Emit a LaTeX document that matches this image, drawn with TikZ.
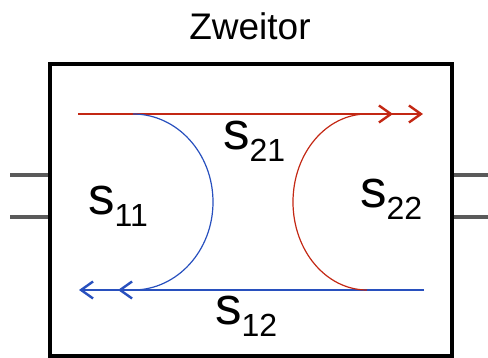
\documentclass[tikz,border=0pt]{standalone}
\usepackage{fontspec}
\setmainfont{Liberation Sans}
\usetikzlibrary{positioning,arrows.meta,calc}
\definecolor{wavered}{RGB}{195,40,20}
\definecolor{waveblue}{RGB}{40,80,190}
\definecolor{portgray}{RGB}{90,90,90}
\tikzset{
  twoport/.style={draw=black, line width=4pt, minimum width=402pt, minimum height=292pt,
                  inner sep=0pt},
  port/.style={draw=portgray, line width=4pt},
  tip/.style={-{Straight Barb[length=12pt, width=17pt, line width=2.4pt]}},
  trans/.style={tip, line width=2pt},
  refl/.style={tip, line width=1.2pt},
  sname/.style={anchor=base west, inner sep=0pt},
  title/.style={font=\fontsize{37}{40}\selectfont, inner sep=0pt, anchor=base}
}
\newcommand{\sparam}[1]{{\fontsize{53}{53}\selectfont s}{\fontsize{32}{32}\selectfont\raisebox{-12pt}{#1}}}

\begin{document}
\begin{tikzpicture}[x=1pt, y=1pt]
\useasboundingbox (0,0) rectangle (488,358);
% the box and its ports
\node[twoport] (zt) at (251,148) {};
\node[title] (ztname) at (250,318) {Zweitor};
\coordinate (l1) at (10,183);
\coordinate (l2) at (10,141);
\coordinate (r1) at (488,183);
\coordinate (r2) at (488,141);
\draw[port] (l1) -- (l1 -| zt.west);
\draw[port] (l2) -- (l2 -| zt.west);
\draw[port] (zt.east |- r1) -- (r1);
\draw[port] (zt.east |- r2) -- (r2);
% waves
\coordinate (a1) at (78,244);
\coordinate (b2) at (423,244);
\coordinate (a2) at (424,68);
\coordinate (b1) at (79,68);
\coordinate (s11top) at (133,244);
\coordinate (s11end) at (118,68);
\coordinate (s22bot) at (367,68);
\coordinate (s22end) at (393,244);
\draw[trans, wavered] (a1) -- (b2);
\draw[trans, waveblue] (a2) -- (b1);
\draw[refl, waveblue] (s11top) arc[start angle=90, end angle=-90, x radius=80, y radius=88]
  -- (s11end);
\draw[refl, wavered] (s22bot) arc[start angle=-90, end angle=-270, x radius=74, y radius=88]
  -- (s22end);
% labels
\node[sname] (n21) at (223,208) {\sparam{21}};
\node[sname] (n11) at (88,143) {\sparam{11}};
\node[sname] (n22) at (360,150) {\sparam{22}};
\node[sname] (n12) at (215,33) {\sparam{12}};
\end{tikzpicture}
\end{document}
